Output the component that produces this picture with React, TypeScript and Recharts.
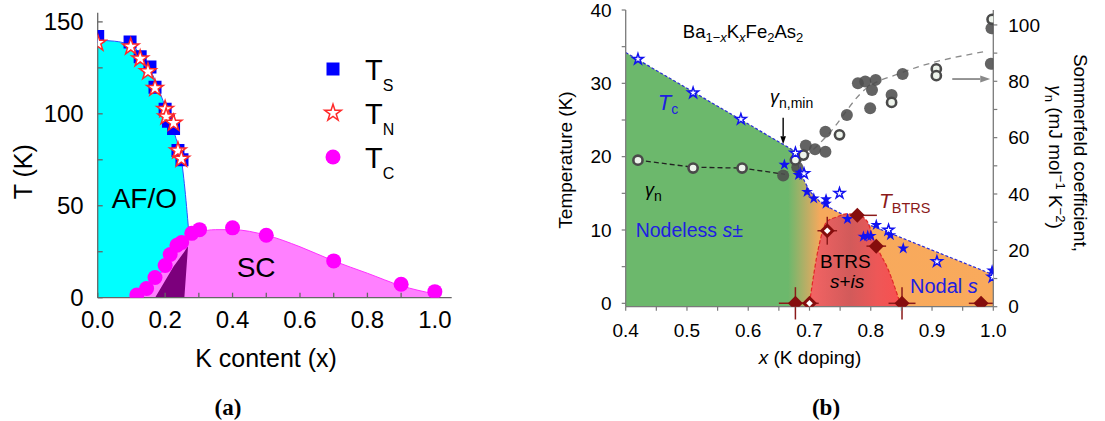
import React from "react";
import {
  ComposedChart,
  Area,
  Line,
  Scatter,
  XAxis,
  YAxis,
  ErrorBar,
  ReferenceLine,
  Legend,
  Symbols,
} from "recharts";

const FONT = "'Liberation Sans', Arial, Helvetica, sans-serif";
const SERIF = "'Liberation Serif', 'DejaVu Serif', serif";

// ---------- panel (a): K content (x) vs T (K) ----------
const tsX = [0, 0.096, 0.126, 0.155, 0.17, 0.2, 0.21, 0.225, 0.238, 0.25];
const tsT = [142, 139, 131, 125.5, 114.5, 102.5, 96, 92, 80, 75];
const tnX = [0, 0.098, 0.126, 0.149, 0.17, 0.2, 0.203, 0.225, 0.238, 0.248];
const tnT = [138.5, 136.5, 130, 123, 114, 102.5, 98.5, 95, 80, 75.5];
const tcX = [0.116, 0.145, 0.17, 0.2, 0.215, 0.235, 0.249, 0.279, 0.302, 0.4, 0.5, 0.7, 0.9, 1.0];
const tcT = [1.5, 5, 11, 17.5, 23.5, 28.5, 30, 35, 37, 38, 34, 20, 7.3, 3.3];

// AF/O region (upper edge and lower edge)
const afX = [0, 0.05, 0.1, 0.15, 0.2, 0.23, 0.25, 0.257, 0.27];
const afTop = [140, 139.5, 137, 126, 104, 88, 73, 62, 36];
const afLow = [0, 0, 0, 0, 0, 0, 0, 0, 36];
// SC dome
const scX = [0.1, 0.15, 0.2, 0.25, 0.3, 0.35, 0.4, 0.5, 0.6, 0.7, 0.8, 0.9, 1.0];
const scT = [0, 5, 16.5, 29, 35.5, 37, 37, 34, 27.7, 20, 13.3, 6.5, 2];
// coexistence wedge
const coX = [0.17, 0.225, 0.257, 0.262, 0.268];
const coTop = [0, 17, 25, 26.5, 28];
const coLow = [0, 0, 0, 12.7, 28];

const aXTicks = [0, 0.1, 0.2, 0.3, 0.4, 0.5, 0.6, 0.7, 0.8, 0.9, 1.0];
const aYTicks = [0, 25, 50, 75, 100, 125, 150];

// ---------- panel (b): Ba1-xKxFe2As2 ----------
const tcLineX = [0.4, 0.675, 0.685, 0.7, 0.72, 0.75, 1.0];
const tcLineT = [34.2, 20.8, 17.8, 15.3, 13.6, 12.3, 3.9];
const btrsX = [0.7, 0.715, 0.728, 0.745, 0.76, 0.78, 0.794, 0.807, 0.829, 0.848];
const btrsT = [0, 7.7, 11.1, 11.8, 12.2, 12.0, 11.2, 8.2, 4.5, 0];

const gLeftX = [0.42, 0.51, 0.59, 0.66];
const gLeftV = [52, 49.5, 49.2, 47];
const gRightX = [0.68, 0.73, 0.79, 0.85, 0.985];
const gRightV = [50.5, 61, 77, 83, 90.5];

const gOpenX = [0.42, 0.51, 0.59, 0.677, 0.69, 0.749, 0.834, 0.907, 0.907, 0.998];
const gOpenV = [52, 49.2, 49.2, 52.1, 53.8, 61, 72.5, 84.4, 82, 102];
const gFillX = [0.657, 0.68, 0.694, 0.709, 0.726, 0.726, 0.761, 0.779, 0.791, 0.808, 0.802, 0.799, 0.834, 0.852, 0.996, 0.997];
const gFillV = [46.6, 49.5, 57.2, 55.9, 62.1, 55, 68, 79.3, 79.9, 80.5, 76.9, 70.4, 75.1, 82.6, 86.2, 98.8];

const starOpenX = [0.42, 0.51, 0.588, 0.677, 0.691, 0.749, 0.829, 0.908, 0.999];
const starOpenT = [33.3, 28.7, 25.1, 20.5, 17.7, 15, 10, 5.7, 3.6];
const starFillX = [0.659, 0.682, 0.685, 0.696, 0.707, 0.727, 0.727, 0.762, 0.788, 0.795, 0.8, 0.809, 0.832, 0.853, 0.998];
const starFillT = [18.9, 17.5, 17.8, 15.2, 14.3, 14.2, 13.6, 11.5, 9.1, 9.2, 9.2, 10.7, 9.3, 7.5, 4.5];

const dFillX = [0.677, 0.778, 0.809, 0.851, 0.98];
const dFillT = [0, 12, 7.8, 0, 0];
const dFillEx: (number | number[])[] = [0.027, [0.011, 0.032], 0.016, 0.022, 0.02];
const dFillEy = [2.2, 0, 0, 2.2, 0];
const dOpenX = [0.7, 0.729];
const dOpenT = [0, 9.9];
const dOpenEx = [0.015, 0.016];
const dOpenEy = [0, 1.9];

const bXTicks = [0.4, 0.45, 0.5, 0.55, 0.6, 0.65, 0.7, 0.75, 0.8, 0.85, 0.9, 0.95, 1.0];
const bYTicks = [0, 5, 10, 15, 20, 25, 30, 35, 40];
const bY2Ticks = [0, 10, 20, 30, 40, 50, 60, 70, 80, 90, 100];

const pts = (xs: number[], ys: number[], key: string) => xs.map((x, i) => ({ x, [key]: ys[i] }));
const range = (xs: number[], lo: number[], hi: number[]) => xs.map((x, i) => ({ x, r: [lo[i], hi[i]] }));

const fmtAX = (v: number) => (Math.round(v * 10) % 2 === 0 ? v.toFixed(1) : "");
const fmtAY = (v: number) => (v % 50 === 0 ? String(v) : "");
const fmtBX = (v: number) => (Math.round(v * 100) % 10 === 0 ? v.toFixed(1) : "");
const fmtBY = (v: number) => (v % 10 === 0 ? String(v) : "");
const fmtBY2 = (v: number) => (v % 20 === 0 ? String(v) : "");

const sym = (type: any, size: number, fill: string, stroke = "none", sw = 0) => (p: any) => (
  <Symbols cx={p.cx} cy={p.cy} type={type} size={size} fill={fill} stroke={stroke} strokeWidth={sw} />
);
const dot = (r: number, fill: string, stroke = "none", sw = 0, op = 1) => (p: any) => (
  <circle cx={p.cx} cy={p.cy} r={r} fill={fill} stroke={stroke} strokeWidth={sw} fillOpacity={op} />
);
const diamond = (open: boolean) => (p: any) => {
  const d = (h: number) => `${p.cx},${p.cy - h} ${p.cx + h},${p.cy} ${p.cx},${p.cy + h} ${p.cx - h},${p.cy}`;
  return (
    <g>
      <polygon points={d(7.5)} fill="#860d0d" />
      {open && <polygon points={d(3.3)} fill="#fff" />}
    </g>
  );
};
const arrow = (color: string, head: number, half: number, sw: number) => (p: any) => {
  const { x1, y1, x2, y2 } = p;
  const len = Math.hypot(x2 - x1, y2 - y1) || 1;
  const ux = (x2 - x1) / len;
  const uy = (y2 - y1) / len;
  const bx = x2 - ux * head;
  const by = y2 - uy * head;
  return (
    <g>
      <line x1={x1} y1={y1} x2={bx} y2={by} stroke={color} strokeWidth={sw} />
      <polygon points={`${x2},${y2} ${bx - uy * half},${by + ux * half} ${bx + uy * half},${by - ux * half}`} fill={color} />
    </g>
  );
};

const FRAME_A = "#666";
const FRAME_B = "#7a7a7a";

function LegendA() {
  const tx = { fontFamily: FONT, fill: "#000" };
  const rows = [
    { sub: "S", y: 21, icon: <Symbols cx={15} cy={21} type="square" size={169} fill="#0000ff" /> },
    { sub: "N", y: 65, icon: <Symbols cx={15} cy={65} type="star" size={85} fill="#fff" stroke="#ff2a2a" strokeWidth={1.5} /> },
    { sub: "C", y: 109, icon: <circle cx={15} cy={109} r={7.5} fill="#ff00ff" /> },
  ];
  return (
    <svg width={110} height={135}>
      {rows.map((r) => (
        <g key={r.sub}>
          {r.icon}
          <text x={47} y={r.y + 11} fontSize={29} {...tx}>
            T<tspan fontSize={16} dy={11}>{r.sub}</tspan>
          </text>
        </g>
      ))}
    </svg>
  );
}

function PanelA() {
  const ax = { axisLine: { stroke: FRAME_A, strokeWidth: 1.3 }, tickLine: { stroke: FRAME_A, strokeWidth: 1.3 } };
  const tick = { fill: "#000", fontSize: 24, fontFamily: FONT };
  return (
    <ComposedChart width={470} height={340} margin={{ top: 12.7, right: 18.3, bottom: 0, left: 0 }}>
      <XAxis xAxisId="b" dataKey="x" type="number" domain={[0, 1.05]} allowDataOverflow ticks={aXTicks} interval={0}
        tickFormatter={fmtAX} height={42.3} tickSize={-5} tickMargin={18} tick={tick} {...ax} />
      <XAxis xAxisId="t" orientation="top" dataKey="x" type="number" domain={[0, 1.05]} allowDataOverflow ticks={aXTicks}
        interval={0} height={0} tickSize={-5} tick={false} {...ax} />
      <YAxis yAxisId="l" type="number" domain={[0, 155]} allowDataOverflow ticks={aYTicks} interval={0}
        tickFormatter={fmtAY} width={97.7} tickSize={-5} tickMargin={19} tick={tick} {...ax} />
      <YAxis yAxisId="r" orientation="right" type="number" domain={[0, 155]} allowDataOverflow ticks={aYTicks}
        interval={0} width={0} tickSize={-5} tick={false} {...ax} />
      <Area xAxisId="b" yAxisId="l" data={range(afX, afLow, afTop)} dataKey="r" type="monotone" fill="#00ffff"
        fillOpacity={1} stroke="none" isAnimationActive={false} dot={false} activeDot={false} />
      <Line xAxisId="b" yAxisId="l" data={pts(afX, afTop, "T")} dataKey="T" type="monotone" stroke="#3050ff"
        strokeWidth={1} dot={false} activeDot={false} isAnimationActive={false} />
      <Area xAxisId="b" yAxisId="l" data={pts(scX, scT, "T")} dataKey="T" type="monotone" fill="#ff80ff"
        fillOpacity={1} stroke="#ff30ff" strokeWidth={1} isAnimationActive={false} dot={false} activeDot={false} />
      <Area xAxisId="b" yAxisId="l" data={range(coX, coLow, coTop)} dataKey="r" type="linear" fill="#7c007c"
        fillOpacity={1} stroke="none" isAnimationActive={false} dot={false} activeDot={false} />
      <Scatter name="Ts" xAxisId="b" yAxisId="l" data={pts(tsX, tsT, "T")} dataKey="T" fill="#0000ff"
        shape={sym("square", 169, "#0000ff")} isAnimationActive={false} />
      <Scatter name="TN" xAxisId="b" yAxisId="l" data={pts(tnX, tnT, "T")} dataKey="T" fill="#ff2a2a"
        shape={sym("star", 85, "#fff", "#ff2a2a", 1.5)} isAnimationActive={false} />
      <Scatter name="TC" xAxisId="b" yAxisId="l" data={pts(tcX, tcT, "T")} dataKey="T" fill="#ff00ff"
        shape={dot(7.5, "#ff00ff")} isAnimationActive={false} />
      <Legend layout="vertical" align="center" verticalAlign="middle"
        wrapperStyle={{ left: 318, top: 48, width: 110, height: 135 }} content={() => <LegendA />} />
    </ComposedChart>
  );
}

function PanelB() {
  const ax = { axisLine: { stroke: FRAME_B, strokeWidth: 1.3 }, tickLine: { stroke: FRAME_B, strokeWidth: 1.2 } };
  const tick = { fill: "#000", fontSize: 19, fontFamily: FONT };
  return (
    <ComposedChart width={560} height={340} margin={{ top: 10, right: 0, bottom: 0, left: 0 }}>
      <defs>
        <linearGradient id="phaseFill" x1="0" y1="0" x2="1" y2="0">
          <stop offset="0" stopColor="#6cb86c" />
          <stop offset="0.442" stopColor="#6cb86c" />
          <stop offset="0.49" stopColor="#b8ae66" />
          <stop offset="0.53" stopColor="#f7a95c" />
          <stop offset="1" stopColor="#f9aa5c" />
        </linearGradient>
        <linearGradient id="btrsFill" x1="0" y1="0" x2="1" y2="0">
          <stop offset="0" stopColor="#f46464" />
          <stop offset="0.45" stopColor="#d25a5a" />
          <stop offset="0.75" stopColor="#ee5757" />
          <stop offset="1" stopColor="#f85050" />
        </linearGradient>
      </defs>
      <XAxis xAxisId="b" dataKey="x" type="number" domain={[0.4, 1.0]} allowDataOverflow ticks={bXTicks} interval={0}
        tickFormatter={fmtBX} height={33.3} tickSize={4} tickMargin={13} tick={tick} {...ax} />
      <XAxis xAxisId="t" orientation="top" dataKey="x" type="number" domain={[0.4, 1.0]} allowDataOverflow
        ticks={bXTicks} height={0} tick={false} tickLine={false} axisLine={{ stroke: FRAME_B, strokeWidth: 1.3 }} />
      <YAxis yAxisId="l" type="number" domain={[-0.46, 40]} allowDataOverflow ticks={bYTicks} interval={0}
        tickFormatter={fmtBY} width={85.7} tickSize={4} tickMargin={10} tick={tick} {...ax} />
      <YAxis yAxisId="r" orientation="right" type="number" domain={[0, 105.3]} allowDataOverflow ticks={bY2Ticks}
        interval={0} tickFormatter={fmtBY2} width={106.7} tickSize={4} tickMargin={11} tick={tick} {...ax} />

      <Area xAxisId="b" yAxisId="l" data={pts(tcLineX, tcLineT, "T")} dataKey="T" type="linear" baseValue="dataMin"
        fill="url(#phaseFill)" fillOpacity={1} stroke="#2a2ad8" strokeWidth={1.2} strokeDasharray="3 2"
        isAnimationActive={false} dot={false} activeDot={false} />
      <Area xAxisId="b" yAxisId="l" data={pts(btrsX, btrsT, "T")} dataKey="T" type="monotone" baseValue="dataMin"
        fill="url(#btrsFill)" fillOpacity={1} stroke="#e02828" strokeWidth={1.2} strokeDasharray="4 2"
        isAnimationActive={false} dot={false} activeDot={false} />

      <Line xAxisId="b" yAxisId="r" data={pts(gLeftX, gLeftV, "g")} dataKey="g" type="linear" stroke="#222"
        strokeWidth={1.3} strokeDasharray="5 3" dot={false} activeDot={false} isAnimationActive={false} />
      <Line xAxisId="b" yAxisId="r" data={pts(gRightX, gRightV, "g")} dataKey="g" type="monotone" stroke="#8a8a8a"
        strokeWidth={1.3} strokeDasharray="6 5" dot={false} activeDot={false} isAnimationActive={false} />

      <Scatter xAxisId="b" yAxisId="r" data={pts(gFillX, gFillV, "g")} dataKey="g" fill="#4d4d4d"
        shape={dot(6, "#4d4d4d", "none", 0, 0.88)} isAnimationActive={false} />
      <Scatter xAxisId="b" yAxisId="r" data={pts(gOpenX, gOpenV, "g")} dataKey="g" fill="#eef4ec"
        shape={dot(4.6, "#eef4ec", "#4a4a4a", 2.6)} isAnimationActive={false} />

      <Scatter xAxisId="b" yAxisId="l" data={pts(starFillX, starFillT, "T")} dataKey="T" fill="#1212f0"
        shape={sym("star", 44, "#1212f0")} isAnimationActive={false} />
      <Scatter xAxisId="b" yAxisId="l" data={pts(starOpenX, starOpenT, "T")} dataKey="T" fill="#fff"
        shape={sym("star", 36, "#fff", "#1212f0", 1.5)} isAnimationActive={false} />

      <Scatter xAxisId="b" yAxisId="l" dataKey="T" shape={diamond(false)} isAnimationActive={false}
        data={dFillX.map((x, i) => ({ x, T: dFillT[i], ex: dFillEx[i], ey: dFillEy[i] }))}>
        <ErrorBar dataKey="ex" direction="x" width={0} stroke="#8b1a1a" strokeWidth={1.5} />
        <ErrorBar dataKey="ey" direction="y" width={0} stroke="#8b1a1a" strokeWidth={1.5} />
      </Scatter>
      <Scatter xAxisId="b" yAxisId="l" dataKey="T" shape={diamond(true)} isAnimationActive={false}
        data={dOpenX.map((x, i) => ({ x, T: dOpenT[i], ex: dOpenEx[i], ey: dOpenEy[i] }))}>
        <ErrorBar dataKey="ex" direction="x" width={0} stroke="#8b1a1a" strokeWidth={1.5} />
        <ErrorBar dataKey="ey" direction="y" width={0} stroke="#8b1a1a" strokeWidth={1.5} />
      </Scatter>

      <ReferenceLine xAxisId="b" yAxisId="l" segment={[{ x: 0.657, y: 25.3 }, { x: 0.657, y: 21.7 }]}
        shape={arrow("#000", 8, 2.8, 1.4)} />
      <ReferenceLine xAxisId="b" yAxisId="r" segment={[{ x: 0.933, y: 80.8 }, { x: 0.995, y: 80.8 }]}
        shape={arrow("#8a8a8a", 10, 3.5, 1.8)} />
    </ComposedChart>
  );
}

function Overlay() {
  const base = { fontFamily: FONT, fill: "#000" };
  const blue = "#2020e0";
  const dred = "#8b1a1a";
  return (
    <svg width={1105} height={421} style={{ position: "absolute", left: 0, top: 0, pointerEvents: "none" }}>
      {/* panel (a) */}
      <text x={111.7} y={208.3} fontSize={28} {...base}>AF/O</text>
      <text x={236.7} y={276.7} fontSize={28} {...base}>SC</text>
      <text transform="translate(32,171.7) rotate(-90)" textAnchor="middle" fontSize={25} {...base}>T (K)</text>
      <text x={266} y={366.5} textAnchor="middle" fontSize={25} {...base}>K content (x)</text>
      <text x={228} y={415} textAnchor="middle" fontSize={23} fontWeight="bold" fontFamily={SERIF}>(a)</text>

      {/* panel (b) */}
      <text x={682.8} y={38.2} fontSize={18.5} {...base}>
        Ba<tspan fontSize={13} dy={4}>1−</tspan>
        <tspan fontSize={13} fontStyle="italic">x</tspan>
        <tspan dy={-4}>K</tspan>
        <tspan fontSize={13} fontStyle="italic" dy={4}>x</tspan>
        <tspan dy={-4}>Fe</tspan>
        <tspan fontSize={13} dy={4}>2</tspan>
        <tspan dy={-4}>As</tspan>
        <tspan fontSize={13} dy={4}>2</tspan>
      </text>
      <text x={657.8} y={110} fontSize={22} fill={blue} fontFamily={FONT}>
        <tspan fontStyle="italic">T</tspan>
        <tspan fontSize={14} dy={4}>c</tspan>
      </text>
      <text x={770} y={103} fontSize={18} {...base}>
        <tspan fontStyle="italic">γ</tspan>
        <tspan fontSize={14} dy={5}>n,min</tspan>
      </text>
      <text x={645} y={196} fontSize={18} {...base}>
        <tspan fontStyle="italic">γ</tspan>
        <tspan fontSize={14} dy={5}>n</tspan>
      </text>
      <text x={635.7} y={237} fontSize={19.5} fill={blue} fontFamily={FONT}>
        Nodeless <tspan fontStyle="italic">s</tspan>±
      </text>
      <text x={879} y={208.3} fontSize={21} fill={dred} fontFamily={FONT}>
        <tspan fontStyle="italic">T</tspan>
        <tspan fontSize={14.5} dy={5}>BTRS</tspan>
      </text>
      <text x={820} y={268.3} fontSize={19} {...base}>BTRS</text>
      <text x={830} y={288.3} fontSize={19} {...base}>
        <tspan fontStyle="italic">s</tspan>+<tspan fontStyle="italic">is</tspan>
      </text>
      <text x={910} y={293.3} fontSize={20} fill={blue} fontFamily={FONT}>
        Nodal <tspan fontStyle="italic">s</tspan>
      </text>
      <text transform="translate(572,160) rotate(-90)" textAnchor="middle" fontSize={19} {...base}>Temperature (K)</text>
      <text x={810} y={364} textAnchor="middle" fontSize={19} {...base}>
        <tspan fontStyle="italic">x</tspan> (K doping)
      </text>
      <text transform="translate(1074,153) rotate(90)" textAnchor="middle" fontSize={19} {...base}>Sommerfeld coefficient,</text>
      <text transform="translate(1049,157) rotate(90)" textAnchor="middle" fontSize={19} {...base}>
        <tspan fontStyle="italic">γ</tspan>
        <tspan fontSize={13} dy={4}>n</tspan>
        <tspan dy={-4}> (mJ mol</tspan>
        <tspan fontSize={13} dy={-7}>−1</tspan>
        <tspan dy={7}> K</tspan>
        <tspan fontSize={13} dy={-7}>−2</tspan>
        <tspan dy={7}>)</tspan>
      </text>
      <text x={826} y={415} textAnchor="middle" fontSize={23} fontWeight="bold" fontFamily={SERIF}>(b)</text>
    </svg>
  );
}

export default function App() {
  return (
    <div style={{ position: "relative", width: 1105, height: 421, background: "#fff", overflow: "hidden" }}>
      <style>{"body{margin:0}"}</style>
      <div style={{ position: "absolute", left: 0, top: 0 }}>
        <PanelA />
      </div>
      <div style={{ position: "absolute", left: 540, top: 0 }}>
        <PanelB />
      </div>
      <Overlay />
    </div>
  );
}
